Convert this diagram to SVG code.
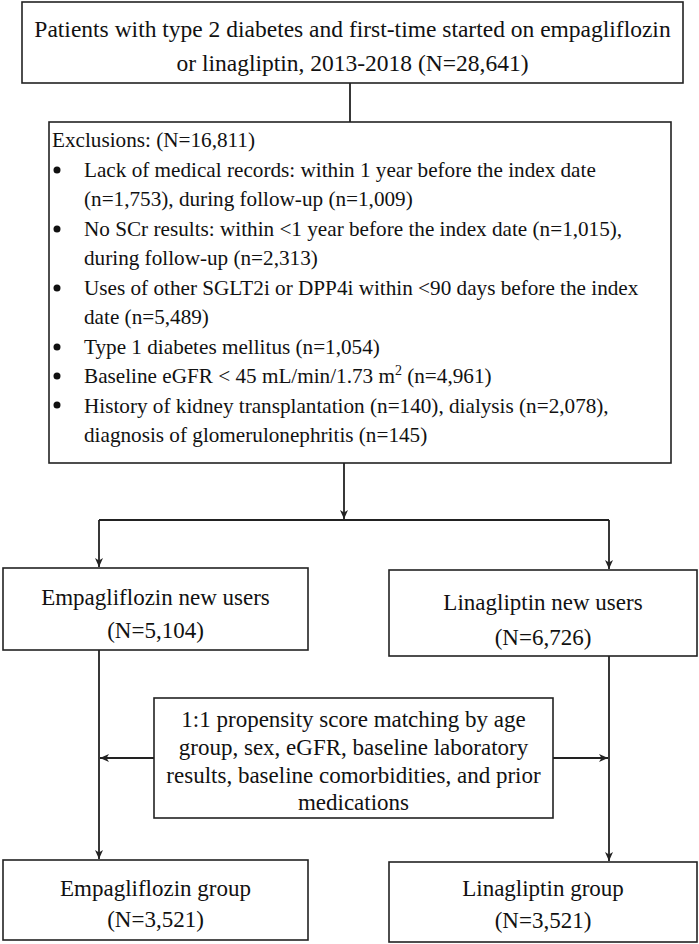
<svg xmlns="http://www.w3.org/2000/svg" width="699" height="944" viewBox="0 0 699 944">
<style>
.box{fill:#fff;stroke:#222;stroke-width:1.6}
.t{font-family:"Liberation Serif","Times New Roman",serif;fill:#111}
.c{text-anchor:middle;font-size:23px}
.x{font-size:21.2px}
.ln{stroke:#222;stroke-width:1.8;fill:none}
.bul{fill:#111}
</style>
<defs>
<marker id="ah" markerUnits="userSpaceOnUse" markerWidth="10" markerHeight="10" refX="9" refY="5" orient="auto">
<path d="M0,1 L9,5 L0,9 L2.5,5 z" fill="#222"/>
</marker>
</defs>
<rect width="699" height="944" fill="#fff"/>
<g id="connectors">
<line class="ln" x1="350" y1="83" x2="350" y2="122"/>
<line class="ln" x1="344" y1="463" x2="344" y2="519" marker-end="url(#ah)"/>
<line class="ln" x1="99" y1="520" x2="609" y2="520"/>
<line class="ln" x1="99" y1="520" x2="99" y2="567" marker-end="url(#ah)"/>
<line class="ln" x1="609" y1="520" x2="609" y2="569" marker-end="url(#ah)"/>
<line class="ln" x1="99" y1="650" x2="99" y2="859" marker-end="url(#ah)"/>
<line class="ln" x1="609" y1="656" x2="609" y2="861" marker-end="url(#ah)"/>
<line class="ln" x1="154" y1="758" x2="100" y2="758" marker-end="url(#ah)"/>
<line class="ln" x1="553" y1="758" x2="608" y2="758" marker-end="url(#ah)"/>
</g>
<g id="n-start">
<rect class="box" x="22" y="2" width="661" height="81"/>
<text class="t c" x="352.5" y="37" style="font-size:23.5px">Patients with type 2 diabetes and first-time started on empagliflozin</text>
<text class="t c" x="352.5" y="71" style="font-size:23.5px">or linagliptin, 2013-2018 (N=28,641)</text>
</g>
<g id="n-exclusions">
<rect class="box" x="49" y="122" width="622" height="341"/>
<text class="t x" x="52" y="147">Exclusions: (N=16,811)</text>
<circle class="bul" cx="57" cy="170" r="3.5"/>
<text class="t x" x="84" y="176.5">Lack of medical records: within 1 year before the index date</text>
<text class="t x" x="84" y="206">(n=1,753), during follow-up (n=1,009)</text>
<circle class="bul" cx="57" cy="229" r="3.5"/>
<text class="t x" x="84" y="235.5">No SCr results: within &lt;1 year before the index date (n=1,015),</text>
<text class="t x" x="84" y="265">during follow-up (n=2,313)</text>
<circle class="bul" cx="57" cy="288" r="3.5"/>
<text class="t x" x="84" y="294.5">Uses of other SGLT2i or DPP4i within &lt;90 days before the index</text>
<text class="t x" x="84" y="324">date (n=5,489)</text>
<circle class="bul" cx="57" cy="347" r="3.5"/>
<text class="t x" x="84" y="353.5">Type 1 diabetes mellitus (n=1,054)</text>
<circle class="bul" cx="57" cy="376" r="3.5"/>
<text class="t x" x="84" y="383">Baseline eGFR &lt; 45 mL/min/1.73 m<tspan dy="-8" font-size="14">2</tspan><tspan dy="8"> (n=4,961)</tspan></text>
<circle class="bul" cx="57" cy="405" r="3.5"/>
<text class="t x" x="84" y="412.5">History of kidney transplantation (n=140), dialysis (n=2,078),</text>
<text class="t x" x="84" y="442">diagnosis of glomerulonephritis (n=145)</text>
</g>
<g id="n-empa-new">
<rect class="box" x="3" y="568" width="305" height="82"/>
<text class="t c" x="155.5" y="605">Empagliflozin new users</text>
<text class="t c" x="155.5" y="638">(N=5,104)</text>
</g>
<g id="n-lina-new">
<rect class="box" x="389" y="570" width="308" height="86"/>
<text class="t c" x="543" y="610">Linagliptin new users</text>
<text class="t c" x="543" y="645">(N=6,726)</text>
</g>
<g id="n-psm">
<rect class="box" x="154" y="698" width="399" height="120"/>
<text class="t c" x="353.5" y="727">1:1 propensity score matching by age</text>
<text class="t c" x="353.5" y="755">group, sex, eGFR, baseline laboratory</text>
<text class="t c" x="353.5" y="783">results, baseline comorbidities, and prior</text>
<text class="t c" x="353.5" y="810">medications</text>
</g>
<g id="n-empa-group">
<rect class="box" x="3" y="860" width="305" height="80"/>
<text class="t c" x="155.5" y="896">Empagliflozin group</text>
<text class="t c" x="155.5" y="927">(N=3,521)</text>
</g>
<g id="n-lina-group">
<rect class="box" x="389" y="862" width="308" height="80"/>
<text class="t c" x="543" y="896">Linagliptin group</text>
<text class="t c" x="543" y="928">(N=3,521)</text>
</g>
</svg>
